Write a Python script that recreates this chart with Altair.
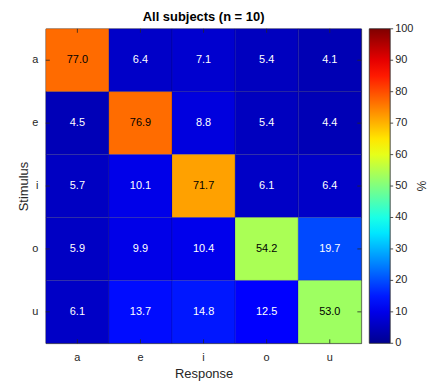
import altair as alt
import pandas as pd

stimuli = ["a", "e", "i", "o", "u"]
responses = ["a", "e", "i", "o", "u"]
values = [
    [77.0, 6.4, 7.1, 5.4, 4.1],
    [4.5, 76.9, 8.8, 5.4, 4.4],
    [5.7, 10.1, 71.7, 6.1, 6.4],
    [5.9, 9.9, 10.4, 54.2, 19.7],
    [6.1, 13.7, 14.8, 12.5, 53.0],
]
jet_stops = [0, 12.5, 37.5, 62.5, 87.5, 100]
jet_colors = ["#00008f", "#0000ff", "#00ffff", "#ffff00", "#ff0000", "#800000"]
legend_ticks = [0, 10, 20, 30, 40, 50, 60, 70, 80, 90, 100]

rows = []
for i, s in enumerate(stimuli):
    for j, r in enumerate(responses):
        rows.append({"Stimulus": s, "Response": r, "value": values[i][j]})
df = pd.DataFrame(rows)
cats = pd.DataFrame({"cat": stimuli})
ticks_df = pd.DataFrame({"v": legend_ticks})

W, H = 317, 316
font = "Liberation Sans"
axcol = "#262626"

xenc = alt.X("Response:N", sort=responses, title="Response",
             axis=alt.Axis(labelAngle=0, tickSize=0, domain=False, labelPadding=8,
                           labelFontSize=11, titleFontSize=13, titleFontWeight="normal",
                           labelColor=axcol, titleColor=axcol, titlePadding=5,
                           labelFont=font, titleFont=font))
yenc = alt.Y("Stimulus:N", sort=stimuli, title="Stimulus",
             axis=alt.Axis(tickSize=0, domain=False, labelPadding=8,
                           labelFontSize=11, titleFontSize=13, titleFontWeight="normal",
                           labelColor=axcol, titleColor=axcol, titlePadding=1,
                           labelFont=font, titleFont=font))

heat = alt.Chart(df).mark_rect(stroke="#000000", strokeOpacity=0.18, strokeWidth=0.8).encode(
    x=xenc, y=yenc,
    color=alt.Color("value:Q",
                    scale=alt.Scale(domain=jet_stops, range=jet_colors, interpolate="rgb"),
                    legend=alt.Legend(title=None, orient="right", direction="vertical",
                                      gradientLength=H, gradientThickness=21,
                                      gradientStrokeColor=axcol, gradientStrokeWidth=0.8,
                                      values=legend_ticks, labelExpr="''",
                                      offset=8, padding=0)),
)

text = alt.Chart(df).mark_text(fontSize=11, font=font).encode(
    x=alt.X("Response:N", sort=responses),
    y=alt.Y("Stimulus:N", sort=stimuli),
    text=alt.Text("value:Q", format=".1f"),
    color=alt.condition(alt.datum.value > 40, alt.value("black"), alt.value("white")),
)

pct = alt.Chart(pd.DataFrame({"t": ["%"]})).mark_text(
    fontSize=12, font=font, color=axcol, angle=90, align="center", baseline="middle"
).encode(text="t:N", x=alt.value(W + 60), y=alt.value(H / 2))

tk = 4
bot = alt.Chart(cats).mark_rule(color=axcol, strokeWidth=0.8).encode(
    x=alt.X("cat:N", sort=responses), y=alt.value(H), y2=alt.value(H - tk))
top = alt.Chart(cats).mark_rule(color=axcol, strokeWidth=0.8).encode(
    x=alt.X("cat:N", sort=responses), y=alt.value(0), y2=alt.value(tk))
left = alt.Chart(cats).mark_rule(color=axcol, strokeWidth=0.8).encode(
    y=alt.Y("cat:N", sort=stimuli), x=alt.value(0), x2=alt.value(tk))
right = alt.Chart(cats).mark_rule(color=axcol, strokeWidth=0.8).encode(
    y=alt.Y("cat:N", sort=stimuli), x=alt.value(W), x2=alt.value(W - tk))

main = alt.layer(heat, text, pct, bot, top, left, right)

cscale = alt.Scale(domain=[0, 100], zero=False, nice=False)
cb_labels = alt.Chart(ticks_df).mark_text(
    fontSize=11, font=font, color=axcol, align="left", baseline="middle"
).encode(y=alt.Y("v:Q", scale=cscale, axis=None), x=alt.value(W + 34),
         text=alt.Text("v:Q"))
cb_ticks = alt.Chart(ticks_df).mark_rule(color=axcol, strokeWidth=0.8).encode(
    y=alt.Y("v:Q", scale=cscale, axis=None), x=alt.value(W + 29), x2=alt.value(W + 32))

chart = alt.layer(main, cb_ticks, cb_labels).resolve_scale(y="independent").properties(
    width=W, height=H,
    title=alt.Title("All subjects (n = 10)", fontSize=13, fontWeight="bold", font=font,
                    color="black", anchor="middle", offset=3, dy=4),
    padding={"left": 9, "top": 2, "right": 2, "bottom": 2},
).configure_view(stroke=axcol, strokeWidth=0.8).configure_scale(bandPaddingInner=0, bandPaddingOuter=0)

chart.save("out.html", embed_options={"renderer": "svg", "actions": False})
